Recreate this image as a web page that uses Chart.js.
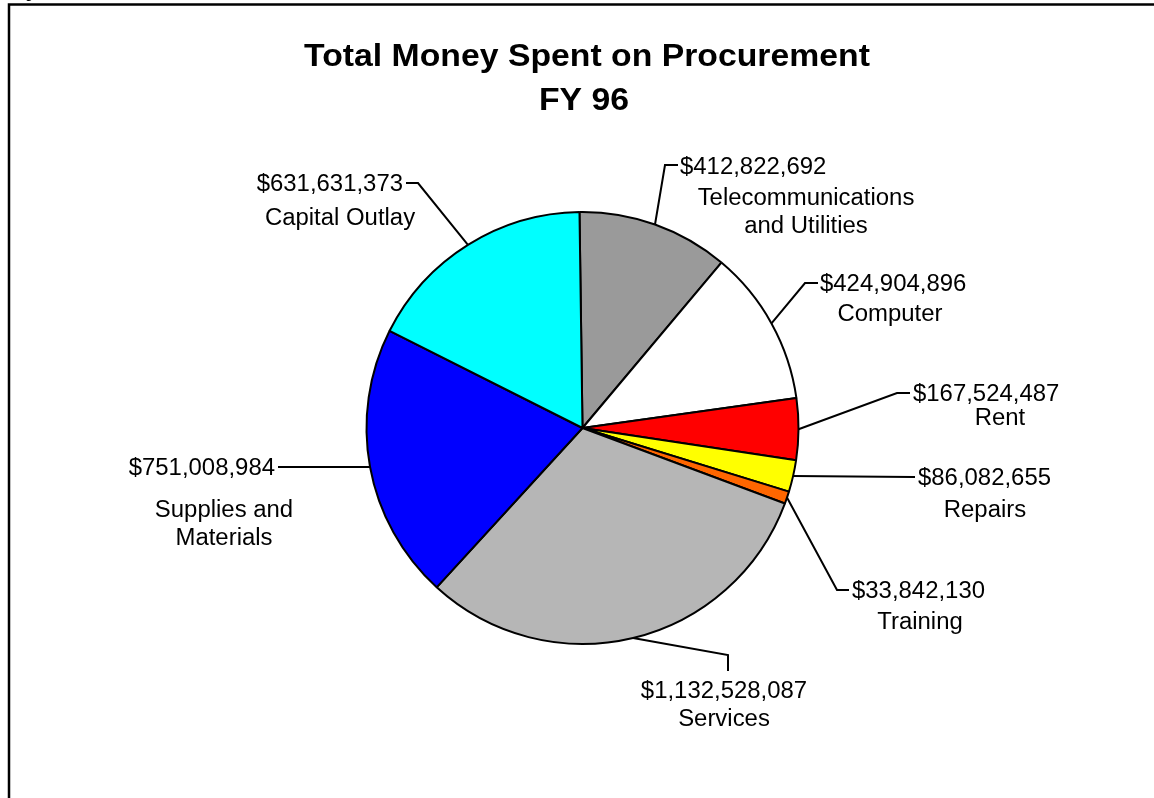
<!DOCTYPE html>
<html>
<head>
<meta charset="utf-8">
<title>Total Money Spent on Procurement FY 96</title>
<script src="https://cdn.jsdelivr.net/npm/chart.js@4/dist/chart.umd.min.js"></script>
<style>
  html, body { margin: 0; padding: 0; background: #fff; }
  #wrap { width: 1154px; height: 798px; }
</style>
</head>
<body>
<div id="wrap"><canvas id="chart" width="1154" height="798"></canvas></div>
<script>
// spending categories, clockwise from 12 o'clock
const categories = [
    ["Telecommunications", "and Utilities"],
    ["Computer"],
    ["Rent"],
    ["Repairs"],
    ["Training"],
    ["Services"],
    ["Supplies and", "Materials"],
    ["Capital Outlay"]
];
const amounts = [412822692, 424904896, 167524487, 86082655, 33842130, 1132528087, 751008984, 631631373];
const sliceColors = ["#9a9a9a", "#ffffff", "#ff0000", "#ffff00", "#ff6600", "#b6b6b6", "#0000ff", "#00ffff"];
const titleLines = ["Total Money Spent on Procurement", "FY 96"];

// where each callout sits: leader bend + end, value line, name lines
const callouts = [
    { bend: [665, 165], end: [678, 165], value: [680, 174, "left"], name: [806, 205], gap: 28 },
    { bend: [805, 283], end: [818, 283], value: [820, 291, "left"], name: [890, 321], gap: 28 },
    { bend: [897, 393], end: [910, 393], value: [913, 401, "left"], name: [1000, 425], gap: 28 },
    { bend: [913, 477], end: [915, 477], value: [918, 485, "left"], name: [985, 517], gap: 28 },
    { bend: [837, 590], end: [849, 590], value: [852, 598, "left"], name: [920, 629], gap: 28 },
    { bend: [728, 655], end: [728, 671], value: [724, 698, "center"], name: [724, 726], gap: 28 },
    { bend: [300, 467], end: [278, 467], value: [275, 475, "right"], name: [224, 517], gap: 28 },
    { bend: [418, 183], end: [406, 183], value: [403, 191, "right"], name: [340, 225], gap: 28 }
];

const FONT = "Arial, 'Liberation Sans', Helvetica, sans-serif";
const SX = 1.04; // text runs a little wide

function money(v) {
    return "$" + v.toLocaleString("en-US");
}

function stretchedText(ctx, text, x, y, align, sx) {
    sx = sx || SX;
    const w = ctx.measureText(text).width * sx;
    let left = x;
    if (align === "center") left = x - w / 2;
    else if (align === "right") left = x - w;
    ctx.save();
    ctx.translate(left, y);
    ctx.scale(sx, 1);
    ctx.textAlign = "left";
    ctx.fillText(text, 0, 0);
    ctx.restore();
}

// outer frame and title
const framePlugin = {
    id: "frame",
    beforeDraw(chart) {
        const ctx = chart.ctx;
        ctx.save();
        ctx.fillStyle = "#fff";
        ctx.fillRect(0, 0, chart.width, chart.height);
        ctx.strokeStyle = "#000";
        ctx.lineWidth = 2.5;
        ctx.strokeRect(9, 4.5, chart.width + 20, chart.height + 20);
        // tail of a caption sitting above the frame
        ctx.fillStyle = "#000";
        ctx.font = "14px " + FONT;
        ctx.textBaseline = "alphabetic";
        ctx.fillText("g", 25, -2);

        ctx.font = "bold 32px " + FONT;
        stretchedText(ctx, titleLines[0], 587, 66, "center", 1.055);
        stretchedText(ctx, titleLines[1], 584, 110, "center", 1.055);
        ctx.restore();
    }
};

// leader lines and labels, anchored at each slice's outer mid-point
const calloutPlugin = {
    id: "callouts",
    afterDatasetsDraw(chart) {
        const ctx = chart.ctx;
        const arcs = chart.getDatasetMeta(0).data;
        ctx.save();
        ctx.strokeStyle = "#000";
        ctx.lineWidth = 2;
        ctx.fillStyle = "#000";
        ctx.font = "23px " + FONT;
        ctx.textBaseline = "alphabetic";
        arcs.forEach((arc, i) => {
            const c = callouts[i];
            const { x, y, startAngle, endAngle, outerRadius } = arc.getProps(["x", "y", "startAngle", "endAngle", "outerRadius"], true);
            const mid = (startAngle + endAngle) / 2;
            const ax = x + Math.cos(mid) * outerRadius;
            const ay = y + Math.sin(mid) * outerRadius;
            ctx.beginPath();
            ctx.moveTo(ax, ay);
            ctx.lineTo(c.bend[0], c.bend[1]);
            ctx.lineTo(c.end[0], c.end[1]);
            ctx.stroke();

            stretchedText(ctx, money(amounts[i]), c.value[0], c.value[1], c.value[2]);
            categories[i].forEach((line, k) => {
                stretchedText(ctx, line, c.name[0], c.name[1] + k * c.gap, "center");
            });
        });
        ctx.restore();
    }
};

new Chart(document.getElementById("chart"), {
    type: "pie",
    data: {
        labels: categories.map(c => c.join(" ")),
        datasets: [{
            data: amounts,
            backgroundColor: sliceColors,
            borderColor: "#000",
            borderWidth: 2,
            hoverOffset: 0
        }]
    },
    options: {
        responsive: false,
        animation: false,
        rotation: -0.8,
        radius: 216,
        layout: { padding: { left: 11, right: 0, top: 58, bottom: 0 } },
        plugins: {
            legend: { display: false },
            title: { display: false },
            tooltip: { enabled: false }
        },
        events: []
    },
    plugins: [framePlugin, calloutPlugin]
});
</script>
</body>
</html>
